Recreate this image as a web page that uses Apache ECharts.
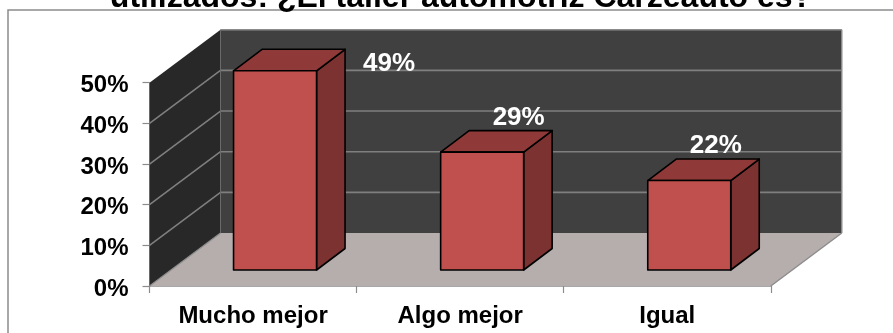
<!DOCTYPE html>
<html>
<head>
<meta charset="utf-8">
<style>html,body{margin:0;padding:0;background:#fff;overflow:hidden}#c{width:893px;height:333px}</style>
<script src="https://cdn.jsdelivr.net/npm/echarts@6/dist/echarts.min.js"></script>
</head>
<body>
<div id="c"></div>
<script>
var categories = ['Mucho mejor', 'Algo mejor', 'Igual'];
var values = [49, 29, 22];
var valueLabels = ['49%', '29%', '22%'];
var ticks = [0, 10, 20, 30, 40, 50];
var titleText = 'utilizados: ¿El taller automotriz Carzeauto es?';

var DEPTH_X = 71, DEPTH_Y = -53;
var BAR_W = 83, BAR_DX = 28.5, BAR_DY = -21.5, BAR_SHIFT = 22, BAR_LIFT = 16;
var LABEL_OFFSET = [[114, -7], [36.5, -34], [26.5, -35]];
var FONT = '"Liberation Sans", Arial, sans-serif';

function poly(pts, fill, stroke, lw) {
  return { type: 'polygon', shape: { points: pts }, style: { fill: fill, stroke: stroke || null, lineWidth: lw || 0, lineJoin: 'round' } };
}
function line(x1, y1, x2, y2, color, lw) {
  return { type: 'line', shape: { x1: x1, y1: y1, x2: x2, y2: y2 }, style: { stroke: color, lineWidth: lw, fill: null } };
}

function renderWalls(params, api) {
  var cs = params.coordSys;
  var l = cs.x, r = cs.x + cs.width;
  var y0 = api.coord([0, 0])[1];
  var yTop = api.coord([0, 50])[1];
  var dx = DEPTH_X, dy = DEPTH_Y;
  var ch = [
    poly([[l + dx, y0 + dy], [r + dx, y0 + dy], [r, y0], [l, y0]], '#b6adad'),
    poly([[l, y0], [l + dx, y0 + dy], [l + dx, yTop + dy], [l, yTop]], '#282828'),
    poly([[l + dx, y0 + dy], [r + dx, y0 + dy], [r + dx, yTop + dy], [l + dx, yTop + dy]], '#404040')
  ];
  ticks.forEach(function (t) {
    if (t === 0 || t === 50) return;
    var y = api.coord([0, t])[1];
    ch.push(line(l + dx, y + dy, r + dx, y + dy, '#7f7f7f', 1.6));
    ch.push(line(l, y, l + dx, y + dy, '#7f7f7f', 1.6));
  });
  ch.push(line(l + dx, yTop + dy, r + dx, yTop + dy, '#8c8c8c', 1.4));
  ch.push(line(l, y0, l + dx, y0 + dy, '#8c8c8c', 1.2));
  ch.push(line(l + dx, yTop + dy, l + dx, y0 + dy, '#6a6a6a', 1));
  ch.push(line(r + dx, yTop + dy, r + dx, y0 + dy, '#8c8c8c', 1.4));
  ch.push(line(r, y0, r + dx, y0 + dy, '#8c8c8c', 1.4));
  return { type: 'group', children: ch };
}

function renderBar(params, api) {
  var i = api.value(0);
  var top = api.coord([i, api.value(1)]);
  var base = api.coord([i, 0]);
  var cx = top[0] + BAR_SHIFT;
  var x0 = cx - BAR_W / 2, x1 = cx + BAR_W / 2;
  var yT = top[1] - BAR_LIFT, yB = base[1] - BAR_LIFT;
  var k = '#000', w = 1.6;
  var off = LABEL_OFFSET[i];
  return {
    type: 'group',
    children: [
      poly([[x1, yT], [x1 + BAR_DX, yT + BAR_DY], [x1 + BAR_DX, yB + BAR_DY], [x1, yB]], '#7b3230', k, w),
      poly([[x0, yT], [x0 + BAR_DX, yT + BAR_DY], [x1 + BAR_DX, yT + BAR_DY], [x1, yT]], '#8f3a38', k, w),
      poly([[x0, yT], [x1, yT], [x1, yB], [x0, yB]], '#c0504d', k, w),
      {
        type: 'text',
        style: {
          x: cx + off[0], y: yT + off[1],
          text: valueLabels[i],
          fill: '#ffffff',
          font: 'bold 26px ' + FONT,
          align: 'center', verticalAlign: 'middle'
        }
      }
    ]
  };
}

var chart = echarts.init(document.getElementById('c'), null, { renderer: 'canvas' });
chart.setOption({
  animation: false,
  backgroundColor: '#ffffff',
  title: {
    text: titleText, left: 456, top: -23, textAlign: 'center',
    textStyle: { fontFamily: FONT, fontWeight: 'bold', fontSize: 32, color: '#000' }
  },
  graphic: [{
    type: 'rect', shape: { x: 8, y: 10, width: 900, height: 340 }, silent: true, z: -1,
    style: { fill: null, stroke: '#8c8c8c', lineWidth: 1.5 }
  }],
  grid: { left: 149.5, width: 621.3, top: 82.7, height: 203.3, containLabel: false },
  xAxis: {
    type: 'category', data: categories,
    axisLine: { lineStyle: { color: '#8c8c8c', width: 1.5 } },
    axisTick: { show: true, length: 7, alignWithLabel: false, lineStyle: { color: '#8c8c8c', width: 1.2 } },
    axisLabel: { color: '#000', fontFamily: FONT, fontWeight: 'bold', fontSize: 24, margin: 18 }
  },
  yAxis: {
    type: 'value', min: 0, max: 50, interval: 10,
    axisLine: { show: true, lineStyle: { color: '#8c8c8c', width: 1.5 } },
    axisTick: { show: true, length: 7, lineStyle: { color: '#8c8c8c', width: 1.2 } },
    splitLine: { show: false },
    axisLabel: { color: '#000', fontFamily: FONT, fontWeight: 'bold', fontSize: 24, margin: 21, verticalAlign: 'top', padding: [-9, 0, 0, 0], formatter: '{value}%' }
  },
  series: [
    { type: 'custom', coordinateSystem: 'cartesian2d', renderItem: renderWalls, data: [[0, 0]], z: 1, silent: true, clip: false },
    { type: 'custom', coordinateSystem: 'cartesian2d', renderItem: renderBar, data: values.map(function (v, i) { return [i, v]; }), z: 2, clip: false }
  ]
});
</script>
</body>
</html>
